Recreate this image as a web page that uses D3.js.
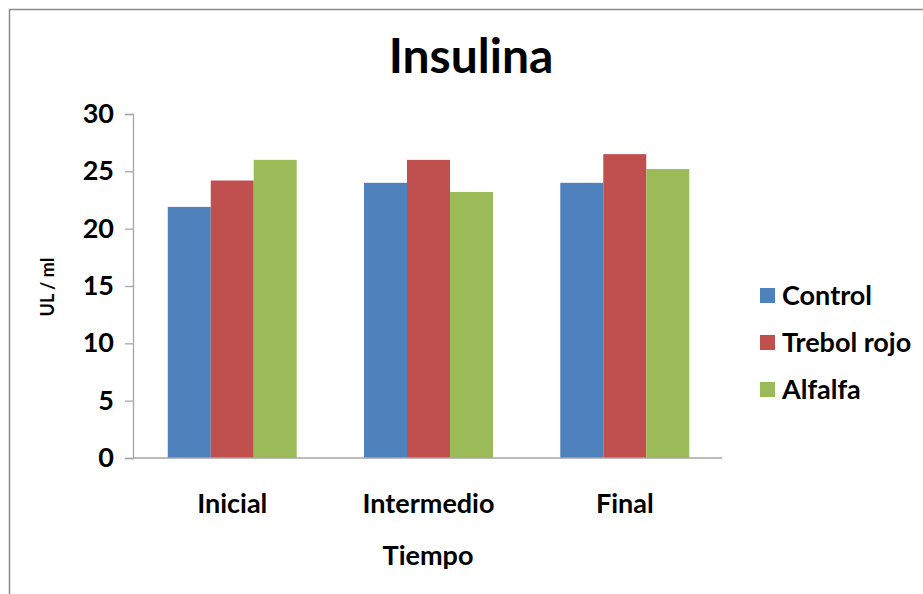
<!DOCTYPE html>
<html><head><meta charset="utf-8">
<script src="https://cdn.jsdelivr.net/npm/d3@7"></script>
<style>body{margin:0;background:#fff;} svg{display:block;font-family:Lato, "Open Sans", sans-serif;font-weight:bold;}</style>
</head><body>
<script>
const categories = ["Inicial", "Intermedio", "Final"];
const seriesNames = ["Control", "Trebol rojo", "Alfalfa"];
const control = [21.9, 24.0, 24.0];
const trebolRojo = [24.2, 26.0, 26.5];
const alfalfa = [26.0, 23.2, 25.2];
const yTicks = [0, 5, 10, 15, 20, 25, 30];
const colors = ["#4f81bd", "#c0504d", "#9bbb59"];
const seriesValues = [control, trebolRojo, alfalfa];

const W = 923, H = 594;
const svg = d3.select("body").append("svg").attr("width", W).attr("height", H);
svg.append("rect").attr("x", 9.5).attr("y", 9.5).attr("width", W).attr("height", H)
  .attr("fill", "#fff").attr("stroke", "#8c8c8c").attr("stroke-width", 1.5);

const x0 = d3.scaleBand().domain(categories).range([134, 723]).paddingInner(0.343).paddingOuter(0.172);
const x1 = d3.scaleBand().domain(seriesNames).range([0, x0.bandwidth()]);
const y = d3.scaleLinear().domain([0, 30]).range([458, 114]);
const color = d3.scaleOrdinal().domain(seriesNames).range(colors);

// bars
const g = svg.append("g");
categories.forEach((c, i) => {
  seriesNames.forEach((s, j) => {
    const v = seriesValues[j][i];
    g.append("rect")
      .attr("x", x0(c) + x1(s)).attr("width", x1.bandwidth())
      .attr("y", y(v)).attr("height", y(0) - y(v))
      .attr("fill", color(s));
  });
});

// y axis
const yAxis = d3.axisLeft(y).tickValues(yTicks).tickSize(8).tickPadding(11);
const ya = svg.append("g").attr("transform", "translate(133,0)").call(yAxis);
ya.select(".domain").attr("stroke", "#a6a6a6").attr("stroke-width", 1.3);
ya.selectAll(".tick line").attr("stroke", "#a6a6a6").attr("stroke-width", 1.3);
ya.selectAll(".tick text").attr("font-size", 27).attr("font-family", "Lato, sans-serif").attr("font-weight", "bold").attr("fill", "#000");

// x axis
const xAxis = d3.axisBottom(x0).tickSize(0).tickPadding(36);
const xa = svg.append("g").attr("transform", "translate(0,458)").call(xAxis);
xa.select(".domain").attr("stroke", "#a6a6a6").attr("stroke-width", 1.3).attr("d", "M133,0H722");
xa.selectAll(".tick text").attr("font-size", 27).attr("font-family", "Lato, sans-serif").attr("font-weight", "bold").attr("fill", "#000");

// title
svg.append("text").attr("x", 471).attr("y", 73).attr("text-anchor", "middle")
  .attr("font-size", 48).text("Insulina");
// x title
svg.append("text").attr("x", 428).attr("y", 565).attr("text-anchor", "middle")
  .attr("font-size", 27).text("Tiempo");
// y title
svg.append("text").attr("transform", "translate(54,287) rotate(-90)").attr("text-anchor", "middle")
  .attr("font-size", 18).text("UL / ml");

// legend
const lg = svg.append("g");
seriesNames.forEach((s, i) => {
  const yy = 295 + i * 47;
  lg.append("rect").attr("x", 760).attr("y", yy - 7).attr("width", 15).attr("height", 15).attr("fill", color(s));
  lg.append("text").attr("x", 782).attr("y", yy + 10).attr("font-size", 27).text(s);
});
</script>
</body></html>
